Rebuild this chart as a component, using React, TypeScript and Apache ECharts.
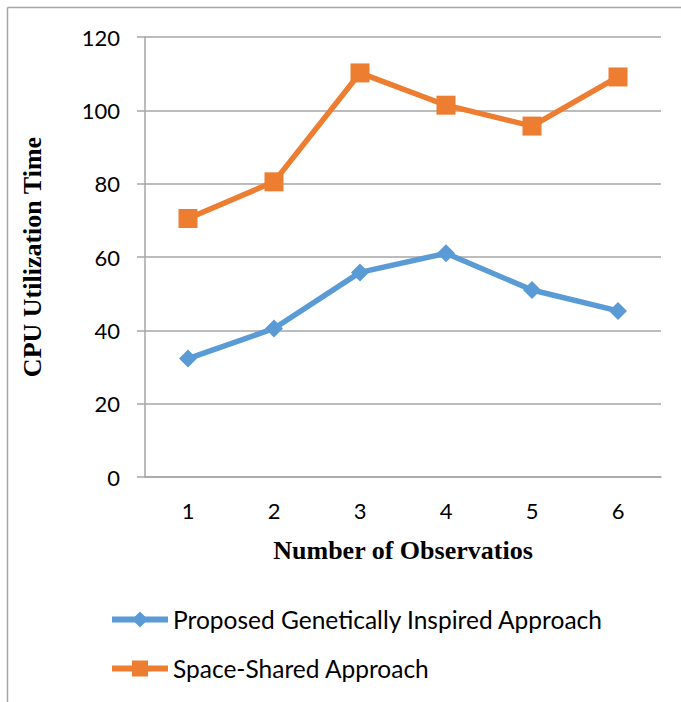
import React, { useEffect, useRef } from "react";
import * as echarts from "echarts";

const categories = ["1", "2", "3", "4", "5", "6"];
const proposedValues = [32.3, 40.5, 55.8, 61, 51, 45.3];
const spaceSharedValues = [70.5, 80.5, 110.2, 101.4, 95.7, 109.1];
const seriesNames = ["Proposed Genetically Inspired Approach", "Space-Shared Approach"];

export default function App() {
  const ref = useRef<HTMLDivElement>(null);
  useEffect(() => {
    document.body.style.margin = "0";
    const chart = echarts.init(ref.current!, undefined, { renderer: "svg" });
    const labelFont = "Lato, 'Open Sans', sans-serif";
    chart.setOption({
      animation: false,
      backgroundColor: "#ffffff",
      graphic: [
        { type: "line", shape: { x1: 7.5, y1: 7.5, x2: 681, y2: 7.5 }, style: { stroke: "#a6a6a6", lineWidth: 1.5 } },
        { type: "line", shape: { x1: 7.5, y1: 7.5, x2: 7.5, y2: 702 }, style: { stroke: "#a6a6a6", lineWidth: 1.5 } },
      ],
      grid: { left: 145, top: 37, right: 20, bottom: 225, containLabel: false },
      legend: {
        orient: "vertical",
        left: 104,
        top: 602,
        itemGap: 24,
        itemWidth: 56,
        itemHeight: 20,
        lineStyle: { width: 6 },
        textStyle: { fontFamily: labelFont, fontSize: 24.5, color: "#000" },
        data: seriesNames,
      },
      xAxis: {
        type: "category",
        data: categories,
        boundaryGap: true,
        axisLine: { show: true, lineStyle: { color: "#a6a6a6", width: 1.5 } },
        axisTick: { show: false },
        axisLabel: { margin: 22, fontFamily: labelFont, fontSize: 22, color: "#000" },
        name: "Number of Observatios",
        nameLocation: "middle",
        nameGap: 60,
        nameTextStyle: { fontFamily: "'Liberation Serif', serif", fontWeight: "bold", fontSize: 26, color: "#000" },
      },
      yAxis: {
        type: "value",
        min: 0,
        max: 120,
        interval: 20,
        axisLine: { show: true, lineStyle: { color: "#a6a6a6", width: 1.5 } },
        axisTick: { show: true, length: 8, lineStyle: { color: "#a6a6a6", width: 1.5 } },
        splitLine: { show: true, lineStyle: { color: "#a6a6a6", width: 1.5 } },
        axisLabel: { margin: 25, fontFamily: labelFont, fontSize: 22, color: "#000" },
        name: "CPU Utilization Time",
        nameLocation: "middle",
        nameGap: 100,
        nameRotate: 90,
        nameTextStyle: { fontFamily: "'Liberation Serif', serif", fontWeight: "bold", fontSize: 26, color: "#000" },
      },
      series: [
        {
          name: seriesNames[0],
          type: "line",
          data: proposedValues,
          symbol: "diamond",
          symbolSize: 18,
          lineStyle: { color: "#5B9BD5", width: 5.5 },
          itemStyle: { color: "#5B9BD5" },
        },
        {
          name: seriesNames[1],
          type: "line",
          data: spaceSharedValues,
          symbol: "rect",
          symbolSize: 19,
          lineStyle: { color: "#ED7D31", width: 5.5 },
          itemStyle: { color: "#ED7D31" },
        },
      ],
    });
    return () => chart.dispose();
  }, []);
  return <div ref={ref} style={{ width: 681, height: 702 }} />;
}
